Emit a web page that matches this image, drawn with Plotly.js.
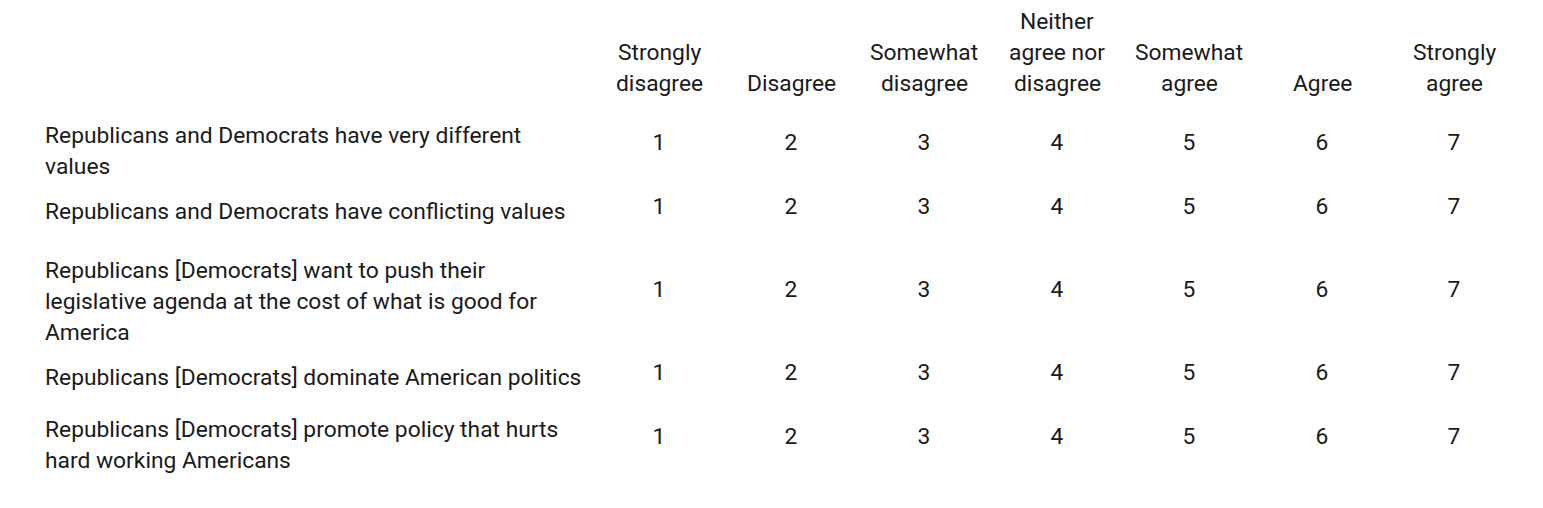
<!DOCTYPE html>
<html>
<head>
<meta charset="utf-8">
<script src="https://cdn.plot.ly/plotly-3.0.1.min.js"></script>
<style>body{margin:0;background:#fff}#chart{width:1543px;height:508px}</style>
</head>
<body>
<div id="chart"></div>
<script>
// scale headings, one array of lines per column
var scaleHeaders = [
  ["Strongly", "disagree"],
  ["Disagree"],
  ["Somewhat", "disagree"],
  ["Neither", "agree nor", "disagree"],
  ["Somewhat", "agree"],
  ["Agree"],
  ["Strongly", "agree"]
];
var scaleValues = [1, 2, 3, 4, 5, 6, 7];
var itemLines = [
  ["Republicans and Democrats have very different", "values"],
  ["Republicans and Democrats have conflicting values"],
  ["Republicans [Democrats] want to push their", "legislative agenda at the cost of what is good for", "America"],
  ["Republicans [Democrats] dominate American politics"],
  ["Republicans [Democrats] promote policy that hurts", "hard working Americans"]
];

// layout positions (pixels)
var colX = [659, 791, 924, 1057, 1189, 1322, 1454];
var labelX = 43;
var headerBottom = 83;
var rowTop = [135, 211, 270, 377, 429];
var numY = [144, 208, 291, 374, 438];
var lineGap = 31;

var font = { family: "Roboto, Arial, sans-serif", size: 22.8, color: "#1a1a1a" };
var annotations = [];

scaleHeaders.forEach(function (lines, c) {
  lines.forEach(function (t, i) {
    annotations.push({
      x: colX[c], y: headerBottom - (lines.length - 1 - i) * lineGap,
      xref: "x", yref: "y", text: t, showarrow: false,
      xanchor: "center", yanchor: "middle", font: font
    });
  });
});

itemLines.forEach(function (lines, r) {
  lines.forEach(function (t, i) {
    annotations.push({
      x: labelX, y: rowTop[r] + i * lineGap,
      xref: "x", yref: "y", text: t, showarrow: false,
      xanchor: "left", yanchor: "middle", font: font
    });
  });
});

var nx = [], ny = [], nt = [];
itemLines.forEach(function (lines, r) {
  scaleValues.forEach(function (v, c) {
    nx.push(colX[c]); ny.push(numY[r]); nt.push(String(v));
  });
});

var data = [{
  x: nx, y: ny, text: nt, mode: "text", type: "scatter",
  textposition: "middle center", textfont: font, hoverinfo: "skip"
}];

var layout = {
  width: 1543, height: 508,
  margin: { l: 0, r: 0, t: 0, b: 0 },
  paper_bgcolor: "#fff", plot_bgcolor: "#fff",
  showlegend: false,
  xaxis: { range: [0, 1543], visible: false, fixedrange: true },
  yaxis: { range: [508, 0], visible: false, fixedrange: true },
  annotations: annotations
};

Plotly.newPlot("chart", data, layout, { staticPlot: true });
</script>
</body>
</html>
